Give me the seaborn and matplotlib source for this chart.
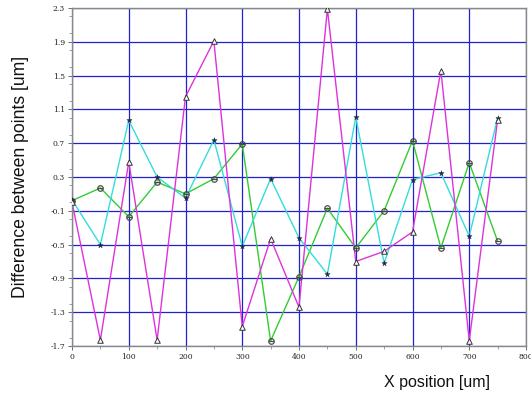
import pandas as pd
import matplotlib
matplotlib.use('Agg')
import matplotlib.pyplot as plt
import seaborn as sns
from matplotlib.ticker import MultipleLocator

# Data
x_pos = [0, 50, 100, 150, 200, 250, 300, 350, 400, 450, 500, 550, 600, 650, 700, 750]
magenta_vals = [0.0, -1.63, 0.48, -1.63, 1.25, 1.91, -1.47, -0.43, -1.24, 2.29,
                -0.70, -0.58, -0.35, 1.56, -1.64, 0.98]
green_vals = [0.02, 0.17, -0.17, 0.24, 0.10, 0.28, 0.69, -1.64, -0.88, -0.07,
              -0.54, -0.10, 0.73, -0.54, 0.47, -0.46]
cyan_vals = [0.03, -0.50, 0.97, 0.30, 0.05, 0.74, -0.52, 0.28, -0.42, -0.85,
             1.01, -0.72, 0.27, 0.35, -0.40, 1.00]
y_ticks = [-1.7, -1.3, -0.9, -0.5, -0.1, 0.3, 0.7, 1.1, 1.5, 1.9, 2.3]

df = pd.DataFrame({
    'x': x_pos * 3,
    'y': green_vals + cyan_vals + magenta_vals,
    'series': ['green'] * 16 + ['cyan'] * 16 + ['magenta'] * 16,
})

sns.set_style('white')
fig = plt.figure(figsize=(5.31, 3.99), dpi=100)
ax = fig.add_axes([72 / 531, 53 / 399, 454 / 531, 338 / 399])

palette = {'green': '#33cc33', 'cyan': '#33dddd', 'magenta': '#dd33dd'}
sns.lineplot(data=df, x='x', y='y', hue='series', palette=palette, ax=ax,
             linewidth=1, legend=False)

# markers on top of the lines
marker_style = {
    'green': dict(marker='$\\ominus$', s=20, color='#444444', edgecolor='#444444', linewidths=0.3),
    'cyan': dict(marker='*', s=16, color='#222244', edgecolor='#222244', linewidths=0.3),
    'magenta': dict(marker='^', s=16, facecolor='white', edgecolor='#333333', linewidths=0.7),
}
for name, style in marker_style.items():
    sub = df[df['series'] == name]
    sns.scatterplot(data=sub, x='x', y='y', ax=ax, legend=False, zorder=4, **style)

ax.set_xlim(0, 800)
ax.set_ylim(-1.7, 2.3)
ax.set_xticks(range(0, 801, 100))
ax.set_yticks(y_ticks)
ax.set_yticklabels([f'{v:.1f}' for v in y_ticks])
ax.xaxis.set_minor_locator(MultipleLocator(50))
ax.yaxis.set_minor_locator(MultipleLocator(0.2))
ax.tick_params(axis='both', which='major', direction='out', length=3, width=0.6,
               color='#555555', labelsize=5.5, labelcolor='#222222', pad=2,
               bottom=True, left=True)
ax.tick_params(axis='both', which='minor', direction='out', length=2, width=0.5,
               color='#777777', bottom=True, left=True)
for lbl in ax.get_xticklabels() + ax.get_yticklabels():
    lbl.set_family('DejaVu Serif')

ax.grid(True, which='major', color='#2222cc', linewidth=0.9)
ax.set_axisbelow(True)
for sp in ax.spines.values():
    sp.set_color('#888888')
    sp.set_linewidth(1)

ax.set_ylabel('Difference between points [um]', fontsize=12.7,
              family='Liberation Sans', color='#111111')
ax.yaxis.set_label_coords(-0.095, 0.5)
ax.set_xlabel('X position [um]', fontsize=11.5, family='Liberation Sans',
              color='#111111')
ax.xaxis.set_label_coords(0.805, -0.085)

fig.savefig('out.png', dpi=100)
